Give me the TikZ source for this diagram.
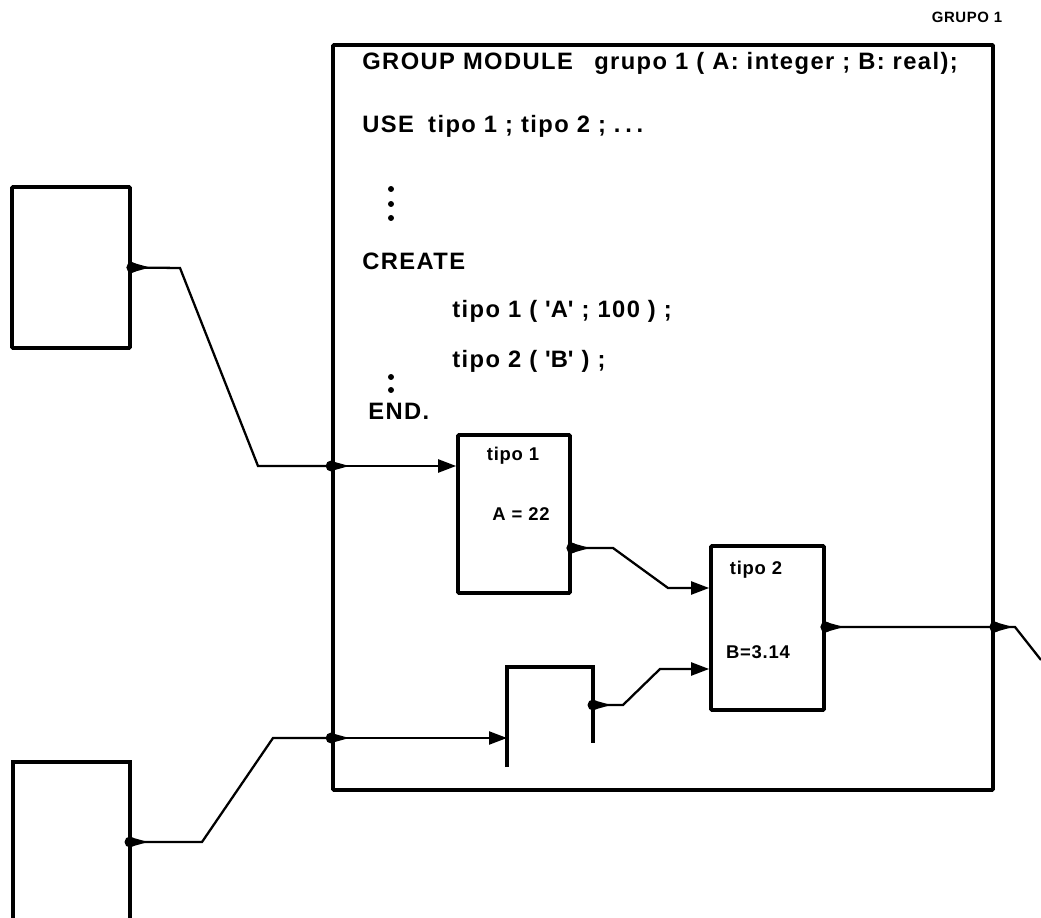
\documentclass[tikz,border=0pt]{standalone}
\usepackage{fontspec}
\setmainfont{Liberation Sans}
\usetikzlibrary{arrows.meta,fit}
\tikzset{
  box/.style={draw, line width=2.1pt, inner sep=0pt, rounded corners=0.5pt},
  wire/.style={line width=1.3pt, line join=miter},
  inarrow/.style={wire, -{Triangle[length=0.36cm,width=0.26cm]}},
  code/.style={anchor=base west, inner sep=0pt, font=\bfseries\fontsize{13.5}{15}\selectfont\addfontfeature{LetterSpace=6}},
  lbl/.style={anchor=center, inner sep=0pt, font=\bfseries\fontsize{10.5}{12}\selectfont\addfontfeature{LetterSpace=4}},
  vdot/.style={circle, fill, inner sep=0pt, minimum size=3.4pt}
}
\newcommand\portmark[1]{%
  \fill (#1) circle[radius=0.11cm];
  \fill ([yshift=0.1cm]#1) -- ++(0.36cm,-0.1cm) -- ++(-0.36cm,-0.1cm) -- cycle;}
\newcommand\q{\textquotesingle}
\begin{document}
\begin{tikzpicture}[x=0.02cm,y=-0.02cm]
\path[fill=white] (0,0) rectangle (1041,918);
\useasboundingbox (0,0) rectangle (1041,918);

% main group module box
\node[box, fit={(333,45)(993,790)}] (G) {};
\node[lbl, font=\bfseries\fontsize{8.5}{10}\selectfont\addfontfeature{LetterSpace=4}] (glabel) at (967,17) {GRUPO 1};

% code text
\node[code] (l1) at (362,70) {GROUP MODULE\hspace{0.9em}grupo 1 ( A: integer ; B: real);};
\node[code] (l2) at (362,133) {USE\hspace{0.6em}tipo 1 ; tipo 2 ; {\addfontfeature{LetterSpace=20}...}};
\node[vdot] (d1) at (391,189) {};
\node[vdot] (d2) at (391,204) {};
\node[vdot] (d3) at (391,218) {};
\node[code] (l3) at (362,270) {CREATE};
\node[code] (l4) at (452,318) {tipo 1 ( \q A\q\ ; 100 ) ;};
\node[code] (l5) at (452,368) {tipo 2 ( \q B\q\ ) ;};
\node[vdot] (d4) at (391,377) {};
\node[vdot] (d5) at (391,390) {};
\node[code] (l6) at (368,420) {END.};

% external boxes
\node[box, fit={(12,187)(130,348)}] (L1) {};
\coordinate (L2tl) at (13,762);
\coordinate (L2tr) at (130,762);
\draw[line width=2.1pt] (13,920) -- (L2tl) -- (L2tr) -- (130,920);
\coordinate (L2p) at (130,842);

% tipo boxes
\node[box, fit={(458,435)(570,593)}] (T1) {};
\node[lbl] (t1name) at (513,456) {tipo 1};
\node[lbl] (t1val) at (521,514) {A = 22};
\node[box, fit={(711,546)(824,710)}] (T2) {};
\node[lbl] (t2name) at (756,570) {tipo 2};
\node[lbl] (t2val) at (758,652) {B=3.14};

% open bracket element
\coordinate (Ba) at (507,767);
\coordinate (Bb) at (507,667);
\coordinate (Bc) at (593,667);
\coordinate (Bd) at (593,743);
\draw[line width=2.1pt] (Ba) -- (Bb) -- (Bc) -- (Bd);
\coordinate (Bin) at (507,738);
\coordinate (Bout) at (593,705);

% ports on the group box
\coordinate (Gin1) at (G.west |- 0,466);
\coordinate (Gin2) at (G.west |- 0,738);
\coordinate (Gout) at (G.east |- 0,627);
\coordinate (outend) at (1041,660);

% connectors
\draw[wire] (L1.east) -- (180,268) -- (258,466) -- (Gin1);
\draw[inarrow] (Gin1) -- (T1.west |- Gin1);
\draw[wire] (L2p) -- (202,842) -- (273,738) -- (Gin2);
\draw[inarrow] (Gin2) -- (Bin);
\draw[inarrow] (T1.east |- 0,548) -- (613,548) -- (668,588) -- (T2.west |- 0,588);
\draw[inarrow] (Bout) -- (623,705) -- (660,669) -- (T2.west |- 0,669);
\draw[wire] (T2.east |- Gout) -- (Gout) -- (1015,627) -- (outend);

% port markers
\portmark{L1.east}
\portmark{Gin1}
\portmark{L2p}
\portmark{Gin2}
\portmark{T1.east |- 0,548}
\portmark{Bout}
\portmark{T2.east |- Gout}
\portmark{Gout}
\end{tikzpicture}
\end{document}
